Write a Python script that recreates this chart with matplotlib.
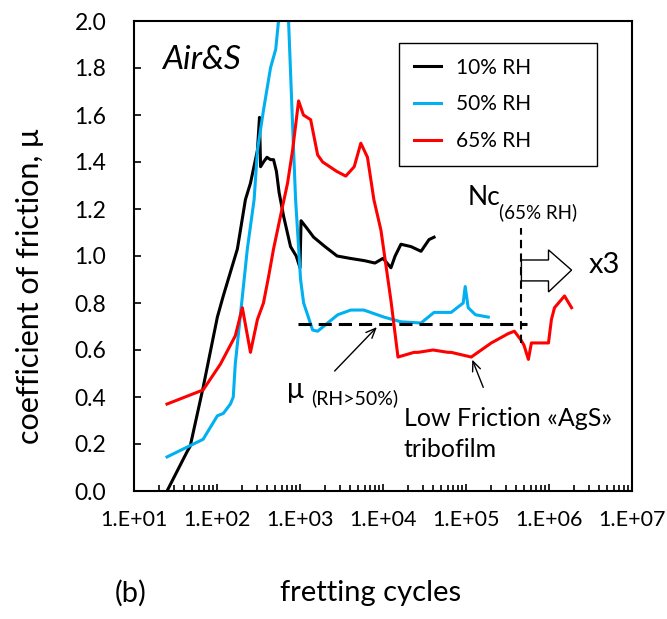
import numpy as np
import matplotlib
matplotlib.use("Agg")
import matplotlib.pyplot as plt
from matplotlib.patches import Polygon

plt.rcParams['font.family'] = ['Lato', 'Noto Sans', 'DejaVu Sans']

# 10% RH
n_10 = [25, 44, 47.5, 68, 101, 119, 176, 220, 253, 307, 325, 335, 363, 400, 441,
        480, 520, 560, 634, 769, 900, 1000, 1030, 1200, 1460, 2000, 2800, 4000,
        6000, 8000, 10000, 12470, 14000, 16450, 21730, 28730, 35890, 41220]
mu_10 = [0.0, 0.17, 0.19, 0.44, 0.74, 0.83, 1.03, 1.24, 1.31, 1.45, 1.59, 1.38,
         1.40, 1.42, 1.41, 1.41, 1.36, 1.27, 1.17, 1.04, 1.00, 0.95, 1.15, 1.12,
         1.08, 1.04, 1.00, 0.99, 0.98, 0.97, 0.99, 0.95, 1.00, 1.05, 1.04, 1.02,
         1.07, 1.08]

# 50% RH
n_50 = [25, 68, 101, 119, 145, 157, 166, 232, 280, 307, 363, 441, 510, 551, 640,
        728, 837, 885, 1016, 1106, 1420, 1632, 2851, 4093, 5875, 10270, 16450,
        28730, 41220, 66240, 92500, 97800, 106300, 130000, 185500]
mu_50 = [0.145, 0.22, 0.32, 0.33, 0.37, 0.40, 0.54, 1.03, 1.24, 1.45, 1.62, 1.80,
         1.88, 2.00, 2.20, 2.00, 1.45, 1.24, 0.90, 0.80, 0.685, 0.68, 0.75, 0.77,
         0.77, 0.74, 0.72, 0.715, 0.76, 0.76, 0.80, 0.87, 0.78, 0.75, 0.74]

# 65% RH
n_65 = [25, 68, 110, 166, 202, 253, 307, 363, 417, 480, 582, 708, 814, 962, 1100,
        1344, 1632, 1876, 2771, 3559, 4500, 5405, 6500, 7762, 9441, 12470, 15150,
        23640, 26420, 40000, 60930, 66240, 115600, 201700, 323700, 382600, 464800,
        500000, 564600, 613600, 985600, 1070000, 1165000, 1538000, 1870000]
mu_65 = [0.37, 0.43, 0.54, 0.66, 0.78, 0.59, 0.73, 0.80, 0.91, 1.03, 1.17, 1.31,
         1.45, 1.66, 1.60, 1.58, 1.43, 1.40, 1.36, 1.34, 1.38, 1.48, 1.42, 1.24,
         1.11, 0.81, 0.57, 0.59, 0.59, 0.60, 0.59, 0.59, 0.57, 0.63, 0.67, 0.68,
         0.64, 0.62, 0.56, 0.63, 0.63, 0.73, 0.78, 0.83, 0.78]

labels = ['10% RH', '50% RH', '65% RH']
colors = ['black', '#00B0F0', '#FF0000']

mu_crit = 0.71
mu_line_n = [935, 5.4e5]
nc = 4.65e5

fig = plt.figure(figsize=(6.67, 6.19), dpi=100)
ax = fig.add_axes([134 / 667, 1 - 491 / 619, 498 / 667, 470 / 619])

for n, mu, lab, c in zip([n_10, n_50, n_65], [mu_10, mu_50, mu_65], labels, colors):
    ax.plot(n, mu, color=c, lw=2.2, label=lab)

ax.plot(mu_line_n, [mu_crit, mu_crit], color='black', lw=2.2, dashes=(4.3, 2.3))
ax.plot([nc, nc], [0.63, 1.12], color='black', lw=1.5, dashes=(4, 2.5))

ax.set_xscale('log')
ax.set_xlim(10, 1e7)
ax.set_ylim(0, 2.0)
ax.set_yticks(np.arange(0, 2.01, 0.2))
ax.set_yticklabels([f'{v:.1f}' for v in np.arange(0, 2.01, 0.2)])
ax.set_xticks([10 ** k for k in range(1, 8)])
ax.set_xticklabels([f'1.E+0{k}' for k in range(1, 8)])
ax.tick_params(axis='both', which='both', direction='in', labelsize=15.5, width=1.2)
ax.tick_params(axis='y', labelsize=16.5)
ax.tick_params(axis='x', which='major', length=5, pad=14)
ax.tick_params(axis='x', which='minor', length=4)
ax.tick_params(axis='y', which='major', length=5, pad=20)
ax.tick_params(axis='y', which='minor', left=False)
for s in ax.spines.values():
    s.set_linewidth(1.5)

leg = ax.legend(loc='upper left', bbox_to_anchor=(0.532, 0.694, 0.398, 0.259),
                mode='expand', fontsize=15, frameon=True, fancybox=False,
                edgecolor='black', framealpha=1, handlelength=1.3,
                handletextpad=0.75, labelspacing=0.8, borderpad=0.7,
                borderaxespad=0)
leg.get_frame().set_linewidth(1.0)

ax.text(21.8, 1.834, 'Air&S', fontsize=24, style='italic', va='center', ha='left')
ax.text(1.06e5, 1.247, 'Nc', fontsize=19, va='center', ha='left')
ax.text(2.52e5, 1.187, '(65% RH)', fontsize=13.5, va='center', ha='left')
ax.text(3.0e6, 0.96, 'x3', fontsize=21, va='center', ha='left')
ax.text(700, 0.43, 'μ', fontsize=20, va='center', ha='left')
ax.text(1343, 0.396, '(RH>50%)', fontsize=14, va='center', ha='left')
ax.text(17900, 0.31, 'Low Friction «AgS»', fontsize=18, va='center', ha='left')
ax.text(17900, 0.175, 'tribofilm', fontsize=18, va='center', ha='left')

arrow_kw = dict(arrowstyle='->,head_length=0.7,head_width=0.3', color='black', lw=1.0)
ax.annotate('', xy=(8900, 0.706), xytext=(2477, 0.502), arrowprops=arrow_kw)
ax.annotate('', xy=(115600, 0.57), xytext=(166000, 0.43), arrowprops=arrow_kw)

# block arrow right of Nc
block = Polygon([(nc, 0.983), (9.86e5, 0.983), (9.86e5, 1.026), (1.87e6, 0.94),
                 (9.86e5, 0.847), (9.86e5, 0.894), (nc, 0.894)],
                closed=True, facecolor='white', edgecolor='black', lw=1.0, zorder=5)
ax.add_patch(block)

fig.text(30 / 667, 1 - 286 / 619, 'coefficient of friction, μ', rotation=90,
         fontsize=22, va='center', ha='center')
fig.text(371 / 667, 1 - 593 / 619, 'fretting cycles', fontsize=21, va='center', ha='center')
fig.text(131 / 667, 1 - 593 / 619, '(b)', fontsize=21, va='center', ha='center')

fig.savefig('out.png', dpi=100)
